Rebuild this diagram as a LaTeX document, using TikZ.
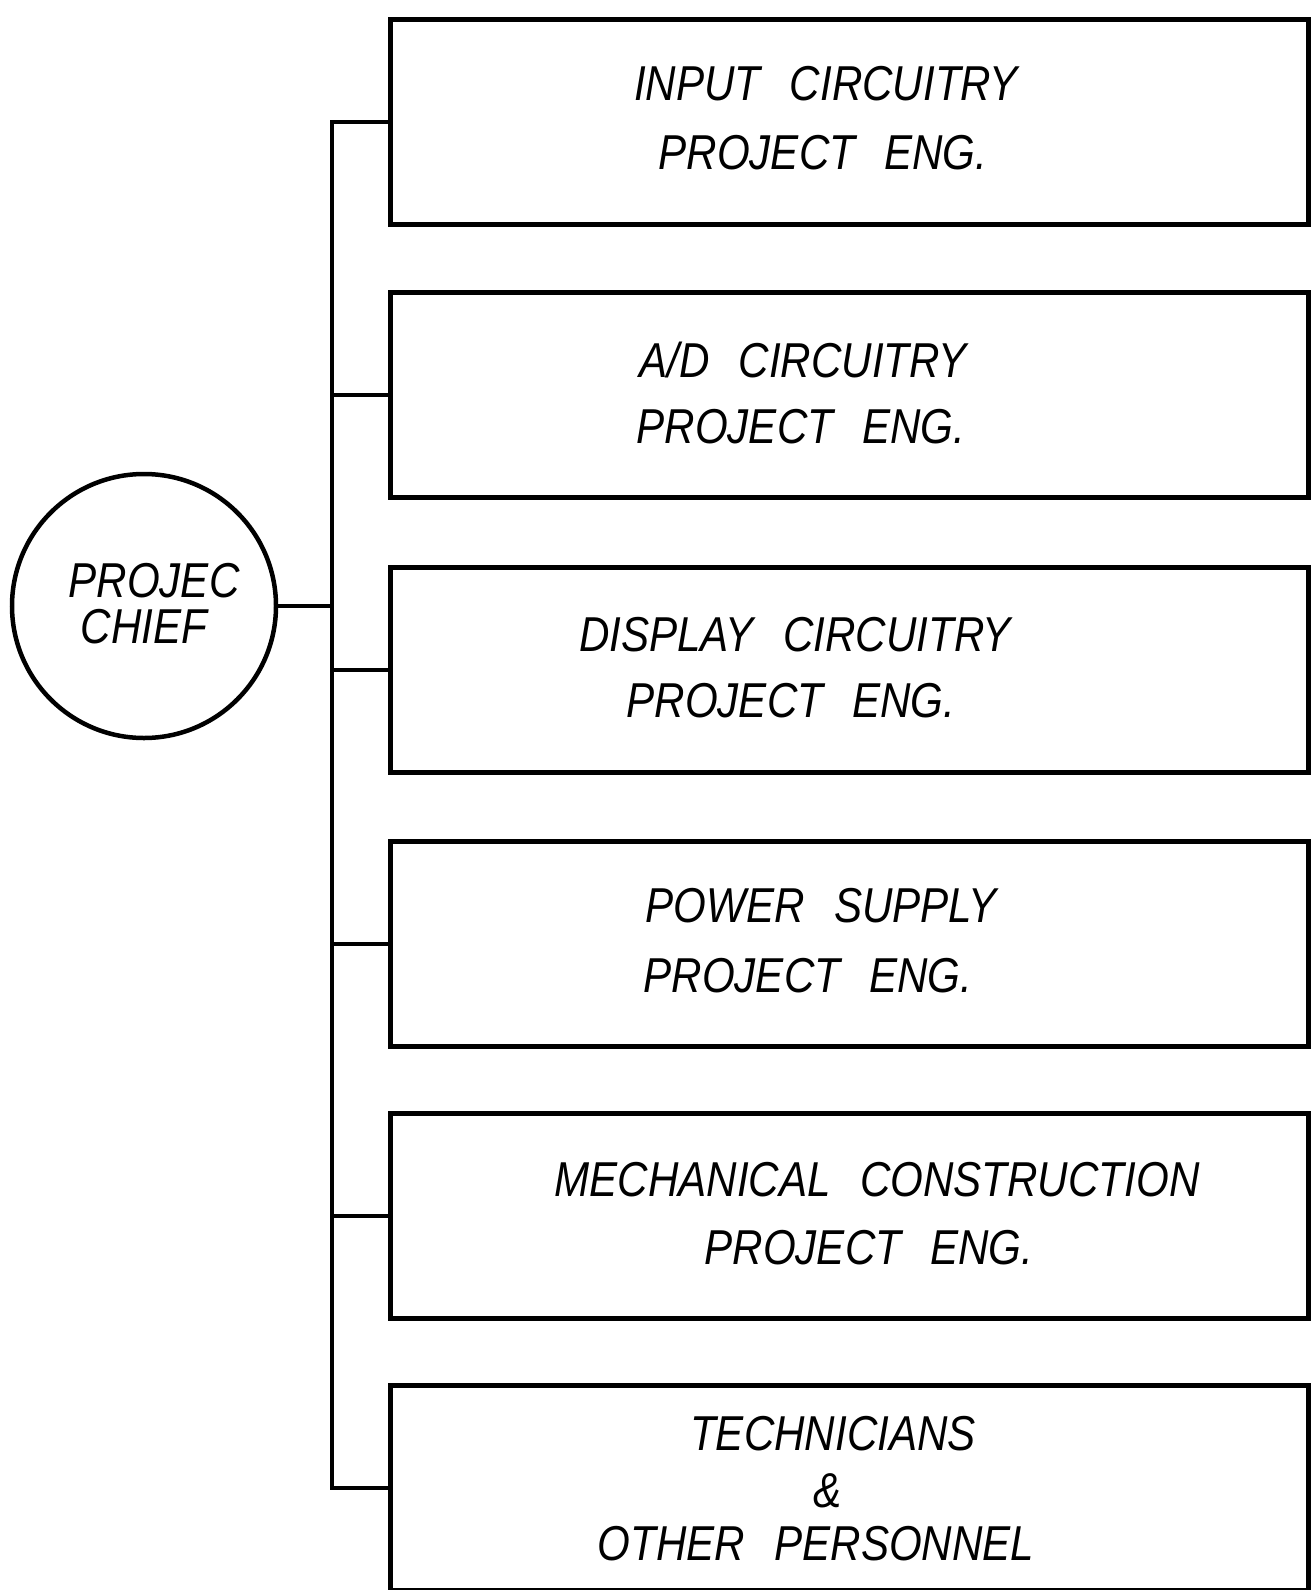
\documentclass[tikz,border=0pt]{standalone}
\usepackage{fontspec}
\newfontfamily\leroy{Liberation Sans}[FakeStretch=0.86,WordSpace=2.5]
\begin{document}
\begin{tikzpicture}[x=1pt,y=-1pt,
  box/.style={draw,line width=5pt,rectangle,minimum width=918pt,minimum height=205pt,anchor=north west,inner sep=0pt},
  chiefnode/.style={draw,line width=4.5pt,circle,minimum size=264pt,inner sep=0pt},
  lbl/.style={font=\leroy\itshape\fontsize{49}{58}\selectfont,inner sep=0pt,anchor=center,text height=35pt,text depth=0pt},
  chieflbl/.style={font=\leroy\itshape\fontsize{49}{46}\selectfont,inner sep=0pt,anchor=center,align=center},
  bus/.style={line width=3.5pt,line join=miter}]
\useasboundingbox (0,0) rectangle (1311,1590);
\node[chiefnode] (chief) at (144,606) {};
\node[box] (b1) at (388,17) {};
\node[box] (b2) at (388,290) {};
\node[box] (b3) at (388,565) {};
\node[box] (b4) at (388,839) {};
\node[box] (b5) at (388,1111) {};
\node[box] (b6) at (388,1383) {};
\coordinate (busx) at (332,0);
\draw[bus] (b1.west) -- (b1.west -| busx) -- (b6.west -| busx) -- (b6.west);
\draw[bus] (b2.west) -- (b2.west -| busx);
\draw[bus] (b3.west) -- (b3.west -| busx);
\draw[bus] (b4.west) -- (b4.west -| busx);
\draw[bus] (b5.west) -- (b5.west -| busx);
\draw[bus] (chief.east) -- (chief.east -| busx);
\node[chieflbl] (clbl) at (144,604) {\hspace*{20pt}PROJEC\\CHIEF};
\node[lbl] (t1a) at (826,83) {INPUT CIRCUITRY};
\node[lbl] (t1b) at (823,152) {PROJECT ENG.};
\node[lbl] (t2a) at (803,360) {A/D CIRCUITRY};
\node[lbl] (t2b) at (801,426) {PROJECT ENG.};
\node[lbl] (t3a) at (795,634) {DISPLAY CIRCUITRY};
\node[lbl] (t3b) at (791,700) {PROJECT ENG.};
\node[lbl] (t4a) at (821,905) {POWER SUPPLY};
\node[lbl] (t4b) at (808,975) {PROJECT ENG.};
\node[lbl] (t5a) at (877,1179) {MECHANICAL CONSTRUCTION};
\node[lbl] (t5b) at (869,1247) {PROJECT ENG.};
\node[lbl] (t6a) at (833,1433) {TECHNICIANS};
\node[lbl] (t6b) at (828,1490) {\&};
\node[lbl] (t6c) at (816,1543) {OTHER PERSONNEL};
\end{tikzpicture}
\end{document}
